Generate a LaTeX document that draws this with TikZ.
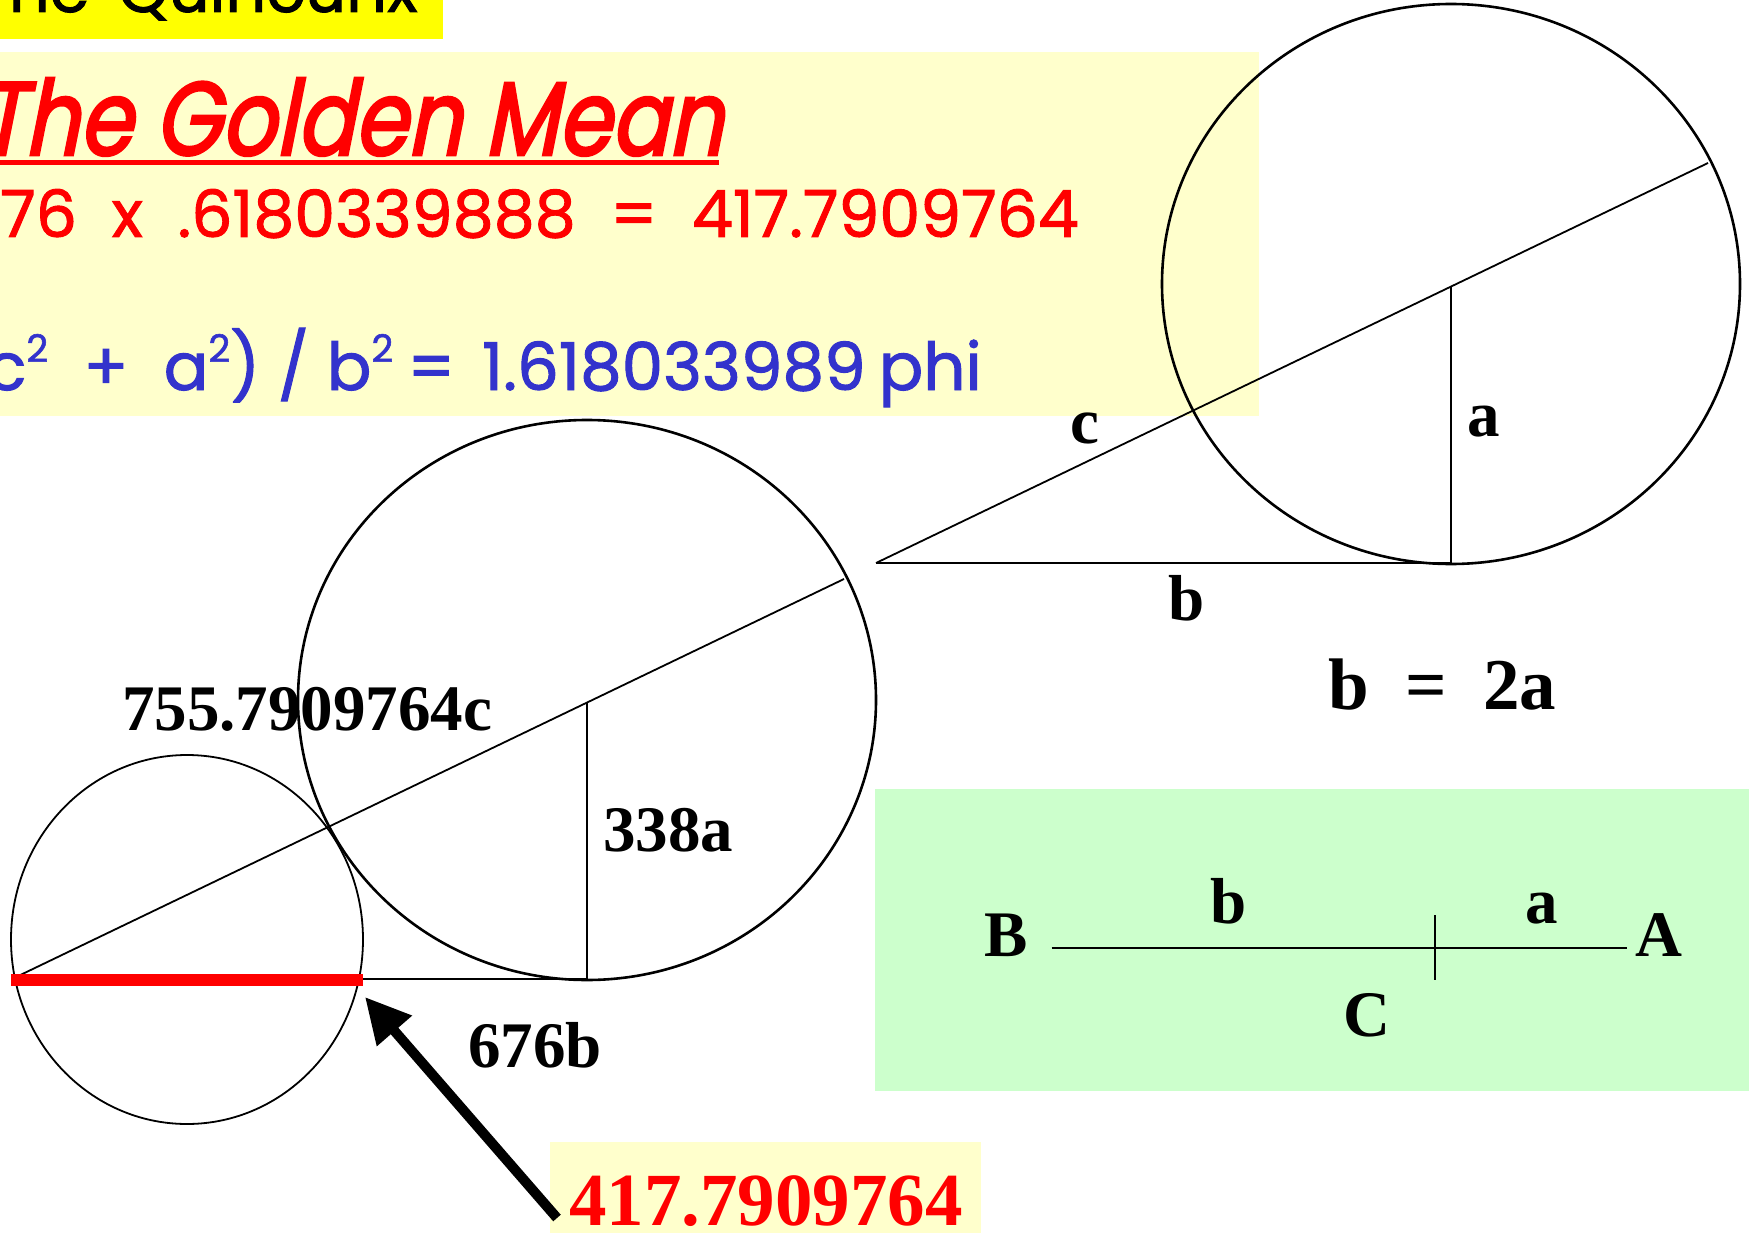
\documentclass[tikz,border=0pt]{standalone}
\usepackage{fontspec}
\setmainfont{Liberation Serif}
\newfontfamily\comic[FakeBold=1.5]{Poppins}
\newfontfamily\comicit[FakeSlant=0.2,FakeStretch=0.82,FakeBold=2.5]{Poppins}
\usetikzlibrary{arrows.meta}
\definecolor{paleyel}{RGB}{255,255,204}
\definecolor{brightyel}{RGB}{255,255,0}
\definecolor{palegreen}{RGB}{204,255,204}
\definecolor{myred}{RGB}{255,0,0}
\definecolor{myblue}{RGB}{51,51,204}
\newcommand\suptwo{\raisebox{28pt}{\fontsize{38}{40}\selectfont 2}}
\tikzset{
  lbl/.style={inner sep=0pt, anchor=base west, font=\bfseries\fontsize{65}{70}\selectfont},
  bigring/.style={draw=black, line width=2.6pt},
  smallring/.style={draw=black, line width=1.8pt},
  thin/.style={draw=black, line width=1.8pt},
  comictxt/.style={inner sep=0pt, anchor=base east}
}
\begin{document}
\begin{tikzpicture}[x=1pt,y=-1pt]
\useasboundingbox (0,0) rectangle (1749,1233);
\clip (0,0) rectangle (1749,1233);
% backgrounds
\fill[brightyel] (0,0) rectangle (443,39);
\fill[paleyel] (0,52) rectangle (1259,416);
\fill[palegreen] (875,789) rectangle (1749,1091);
\fill[paleyel] (550,1142) rectangle (981,1233);

% header texts
\node[comictxt, font=\comic\fontsize{64}{70}\selectfont] (quin) at (418,12) {The\hspace{0.45em}Quincunx};
\node[comictxt, text=myred, font=\comicit\fontsize{104}{110}\selectfont] (title) at (723,155) {The Golden Mean};
\fill[myred] (-10,160.5) rectangle (719,165.5);
\node[comictxt, text=myred, font=\comic\fontsize{65}{70}\selectfont] (calc) at (1079,237)
  {676\ \ x\ \ .6180339888\ \ =\ \ 417.7909764};
\node[comictxt, text=myblue, font=\comic\fontsize{66}{70}\selectfont] (phi) at (982,390)
  {(c\suptwo\ \ +\ \ a\suptwo)\ /\ b\suptwo\hspace{14pt}=\hspace{27pt}1.618033989\hspace{13pt}phi};

% top-right figure
\coordinate (T1) at (876,563);
\coordinate (R1) at (1451,563);
\coordinate (V1) at (1451,286.5);
\coordinate (E1) at (1708,163);
\draw[bigring] (1451,284) ellipse [x radius=289, y radius=280];
\draw[thin] (T1) -- (R1) -- (V1);
\draw[thin] (T1) -- (E1);
\node[lbl] (lc) at (1070,443) {c};
\node[lbl] (la) at (1467,436) {a};
\node[lbl] (lb) at (1168,620) {b};
\node[inner sep=0pt, anchor=base west, font=\bfseries\fontsize{73}{76}\selectfont] (eq) at (1328,709) {b\ \ =\ \ 2a};

% middle figure
\coordinate (T2) at (12,979);
\coordinate (R2) at (587,979);
\coordinate (V2) at (587,702.5);
\coordinate (E2) at (844,579);
\draw[bigring] (587,700) ellipse [x radius=289, y radius=280];
\draw[smallring] (187,939.5) ellipse [x radius=176, y radius=184.5];
\draw[thin] (T2) -- (R2) -- (V2);
\draw[thin] (T2) -- (E2);
\coordinate (redL) at (11,979.5);
\coordinate (redR) at (363,979.5);
\draw[myred, line width=12pt] (redL) -- (redR);
\node[lbl] (lc2) at (122,730.5) {755.7909764c};
\node[lbl] (la2) at (603,851) {338a};
\node[lbl] (lb2) at (468,1067) {676b};

% arrow
\coordinate (arrT) at (557,1218);
\coordinate (arrH) at (365,997);
\draw[black, line width=10pt, -{Triangle[length=45pt,width=44pt]}] (arrT) -- (arrH);
\node[inner sep=0pt, anchor=base west, text=myred, font=\bfseries\fontsize{75}{80}\selectfont] (res) at (569,1225.7) {417.7909764};

% green box line
\coordinate (gB) at (1051.6,947.7);
\coordinate (gA) at (1626.5,947.7);
\coordinate (gT1) at (1435,915);
\coordinate (gT2) at (1435,980);
\draw[thin] (gB) -- (gA);
\draw[thin] (gT1) -- (gT2);
\node[lbl] (nB) at (984,956) {B};
\node[lbl] (nA) at (1635,956) {A};
\node[lbl] (nb) at (1210,923) {b};
\node[lbl] (na) at (1525,923) {a};
\node[lbl] (nC) at (1343,1036) {C};
\end{tikzpicture}
\end{document}
